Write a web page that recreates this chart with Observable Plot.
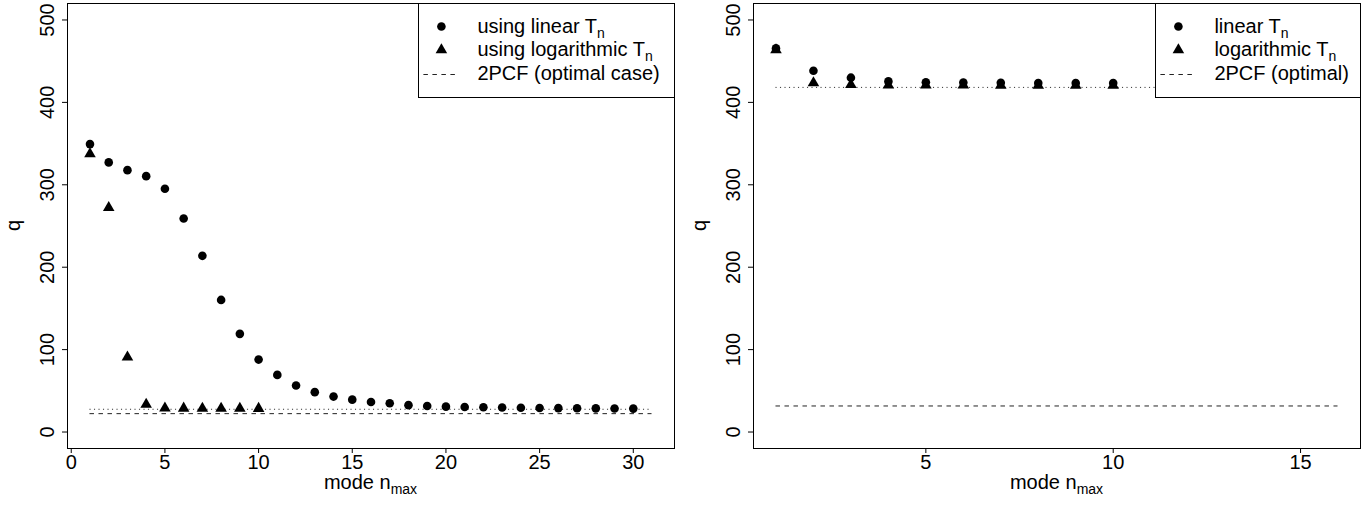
<!DOCTYPE html>
<html>
<head>
<meta charset="utf-8">
<script src="https://cdn.jsdelivr.net/npm/d3@7"></script>
<script src="https://cdn.jsdelivr.net/npm/@observablehq/plot@0.6"></script>
<style>
  html, body { margin: 0; padding: 0; background: #fff; }
  #chart { display: flex; width: 1368px; height: 520px; overflow: hidden; }
  #chart svg { display: block; }
</style>
</head>
<body>
<div id="chart"></div>
<script>
// ---- data -------------------------------------------------------------
// left panel: q against the maximum mode n_max
const nLeft = [1, 2, 3, 4, 5, 6, 7, 8, 9, 10, 11, 12, 13, 14, 15,
               16, 17, 18, 19, 20, 21, 22, 23, 24, 25, 26, 27, 28, 29, 30];
const qLinearLeft = [349.4, 327.2, 317.8, 310.5, 295.2, 259.1, 213.8, 160.3, 119.1, 87.9,
                     69.3, 56.5, 48.4, 43.0, 39.3, 36.4, 34.9, 32.6, 31.6, 30.8,
                     30.4, 30.0, 29.7, 29.4, 29.2, 29.0, 28.8, 28.7, 28.5, 28.4];
const nLogLeft = [1, 2, 3, 4, 5, 6, 7, 8, 9, 10];
const qLogLeft = [337.5, 272.3, 90.8, 33.5, 29.0, 28.8, 28.7, 28.6, 28.6, 28.5];
const pcfLeft = 22.3;        // 2PCF, optimal case
const plateauLeft = 27.6;    // dotted level
const spanLeft = [1, 31];    // extent of the horizontal reference lines

// right panel
const nRight = [1, 2, 3, 4, 5, 6, 7, 8, 9, 10];
const qLinearRight = [465.5, 438.4, 430.0, 425.5, 424.5, 424.0, 423.8, 423.6, 423.5, 423.5];
const qLogRight = [463.8, 423.5, 421.5, 421.0, 420.8, 420.8, 420.7, 420.7, 420.7, 420.7];
const pcfRight = 31.6;
const plateauRight = 418.2;
const spanRight = [1, 16];

// axes
const yDomain = [-20, 520];
const yTicks = [0, 100, 200, 300, 400, 500];
const xDomainLeft = [-0.2, 32.2];
const xTicksLeft = [0, 5, 10, 15, 20, 25, 30];
const xDomainRight = [0.4, 16.6];
const xTicksRight = [5, 10, 15];

// legend texts: [main, subscript]
const legendLeft = [["using linear T", "n"], ["using logarithmic T", "n"], ["2PCF (optimal case)", ""]];
const legendRight = [["linear T", "n"], ["logarithmic T", "n"], ["2PCF (optimal)", ""]];

// ---- drawing ------------------------------------------------------------
const FONT = "'Liberation Sans', Arial, Helvetica, sans-serif";
const W = 684, H = 520;
const DOT_R = 4.3;
const DASH = "4.5,4.5";
const DOTTED = "1.1,3.4";

function panel(cfg) {
  const linear = cfg.n.map((n, i) => ({n, q: cfg.qLin[i]}));
  const logarithmic = cfg.nLog.map((n, i) => ({n, q: cfg.qLog[i]}));
  const svg = Plot.plot({
    width: W,
    height: H,
    marginTop: 3,
    marginBottom: 72,
    marginLeft: cfg.marginLeft,
    marginRight: cfg.marginRight,
    x: {domain: cfg.xDomain},
    y: {domain: yDomain},
    style: {fontFamily: FONT, fontSize: "20px", color: "black", background: "white", overflow: "visible"},
    marks: [
      Plot.frame({stroke: "black"}),
      Plot.axisX({ticks: cfg.xTicks, tickSize: 5, tickPadding: 0.8, label: null, fontSize: 20}),
      Plot.axisY({ticks: yTicks, tickSize: 5, tickPadding: 9, tickRotate: -90, label: null, fontSize: 20}),
      Plot.ruleY([cfg.pcf], {y: d => d, x1: cfg.span[0], x2: cfg.span[1], stroke: "#222", strokeDasharray: DASH}),
      Plot.ruleY([cfg.plateau], {y: d => d, x1: cfg.span[0], x2: cfg.span[1], stroke: "#333", strokeDasharray: DOTTED}),
      Plot.dot(linear, {x: "n", y: "q", r: DOT_R, fill: "black", stroke: null}),
      Plot.dot(logarithmic, {x: "n", y: "q", r: DOT_R, symbol: "triangle", fill: "black", stroke: null})
    ]
  });

  const root = d3.select(svg);
  const frameLeft = cfg.marginLeft, frameRight = W - cfg.marginRight;
  const frameTop = 3, frameBottom = H - 72;

  // x axis title with subscript
  const xt = root.append("text")
    .attr("x", (frameLeft + frameRight) / 2)
    .attr("y", frameBottom + 41)
    .attr("text-anchor", "middle")
    .attr("font-family", FONT)
    .attr("font-size", 20)
    .attr("fill", "black")
    .text("mode n");
  xt.append("tspan").attr("font-size", 14).attr("dy", 5).text("max");

  // y axis title
  root.append("text")
    .attr("transform", `translate(${frameLeft - 47},${(frameTop + frameBottom) / 2}) rotate(-90)`)
    .attr("text-anchor", "middle")
    .attr("font-family", FONT)
    .attr("font-size", 20)
    .attr("fill", "black")
    .text("q");

  // legend box in the top-right corner
  const xchar = 18, yc = 23.5;
  const boxLeft = cfg.legendLeft;
  const g = root.append("g")
    .attr("font-family", FONT)
    .attr("font-size", 20)
    .attr("text-anchor", "start");
  g.append("rect")
    .attr("x", boxLeft + 0.5).attr("y", frameTop + 0.5)
    .attr("width", frameRight - boxLeft).attr("height", 4 * yc)
    .attr("fill", "white").attr("stroke", "black");
  cfg.legend.forEach(([main, sub], i) => {
    const yRow = frameTop + yc * (i + 1);
    const xm = boxLeft + 1.3 * xchar;
    if (i === 0) {
      g.append("circle").attr("cx", xm).attr("cy", yRow).attr("r", DOT_R).attr("fill", "black");
    } else if (i === 1) {
      g.append("path")
        .attr("transform", `translate(${xm},${yRow})`)
        .attr("d", d3.symbol(d3.symbolTriangle, Math.PI * DOT_R * DOT_R)())
        .attr("fill", "black");
    } else {
      g.append("line")
        .attr("x1", boxLeft + 0.3 * xchar).attr("x2", boxLeft + 2.3 * xchar)
        .attr("y1", Math.round(yRow) + 0.5).attr("y2", Math.round(yRow) + 0.5)
        .attr("stroke", "#222").attr("stroke-dasharray", DASH);
    }
    const t = g.append("text")
      .attr("x", boxLeft + 3.3 * xchar)
      .attr("y", yRow + 6)
      .attr("fill", "black")
      .text(main);
    if (sub) t.append("tspan").attr("font-size", 14).attr("dy", 5).text(sub);
  });

  return svg;
}

const chart = document.getElementById("chart");
chart.appendChild(panel({
  n: nLeft, qLin: qLinearLeft, nLog: nLogLeft, qLog: qLogLeft,
  pcf: pcfLeft, plateau: plateauLeft, span: spanLeft,
  xDomain: xDomainLeft, xTicks: xTicksLeft,
  marginLeft: 67, marginRight: 10, legendLeft: 418, legend: legendLeft
}));
chart.appendChild(panel({
  n: nRight, qLin: qLinearRight, nLog: nRight, qLog: qLogRight,
  pcf: pcfRight, plateau: plateauRight, span: spanRight,
  xDomain: xDomainRight, xTicks: xTicksRight,
  marginLeft: 69, marginRight: 8, legendLeft: 471, legend: legendRight
}));
</script>
</body>
</html>
